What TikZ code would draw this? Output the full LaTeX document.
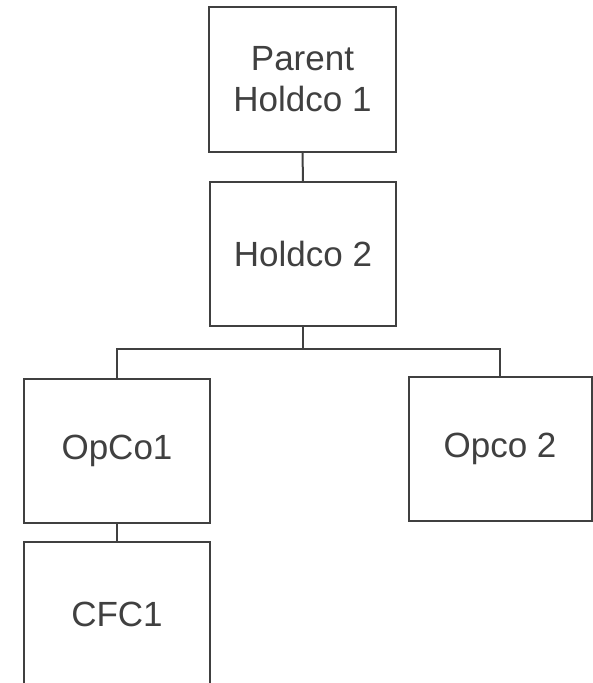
\documentclass[tikz,border=0pt]{standalone}
\usepackage{fontspec}
\setmainfont{Liberation Sans}
\definecolor{ink}{HTML}{404040}
\begin{document}
\begin{tikzpicture}[x=1pt,y=-1pt,
  entity/.style={draw=ink, line width=2pt, fill=white, minimum width=186pt, minimum height=144pt,
    inner sep=0pt, align=center, text=ink, font=\fontsize{35}{41}\selectfont},
  link/.style={draw=ink, line width=2pt}]
\useasboundingbox (0,0) rectangle (593,683);
\begin{scope}
\clip (0,0) rectangle (593,683);
\node[entity, minimum width=187pt, minimum height=145pt] (ph) at (302.5,79.5) {Parent\\Holdco 1};
\node[entity] (h2) at (303,254) {Holdco 2};
\node[entity] (op1) at (117,451) {OpCo1};
\node[entity, minimum width=183pt] (op2) at (500,449) {Opco 2};
\node[entity] (cfc) at (117,614) {CFC1};
\coordinate (bus) at (303,349);
\draw[link] (ph.south) -- (h2.north);
\draw[link] (h2.south) -- (bus) -| (op1.north);
\draw[link] (bus) -| (op2.north);
\draw[link] (op1.south) -- (cfc.north);
\end{scope}
\end{tikzpicture}
\end{document}
